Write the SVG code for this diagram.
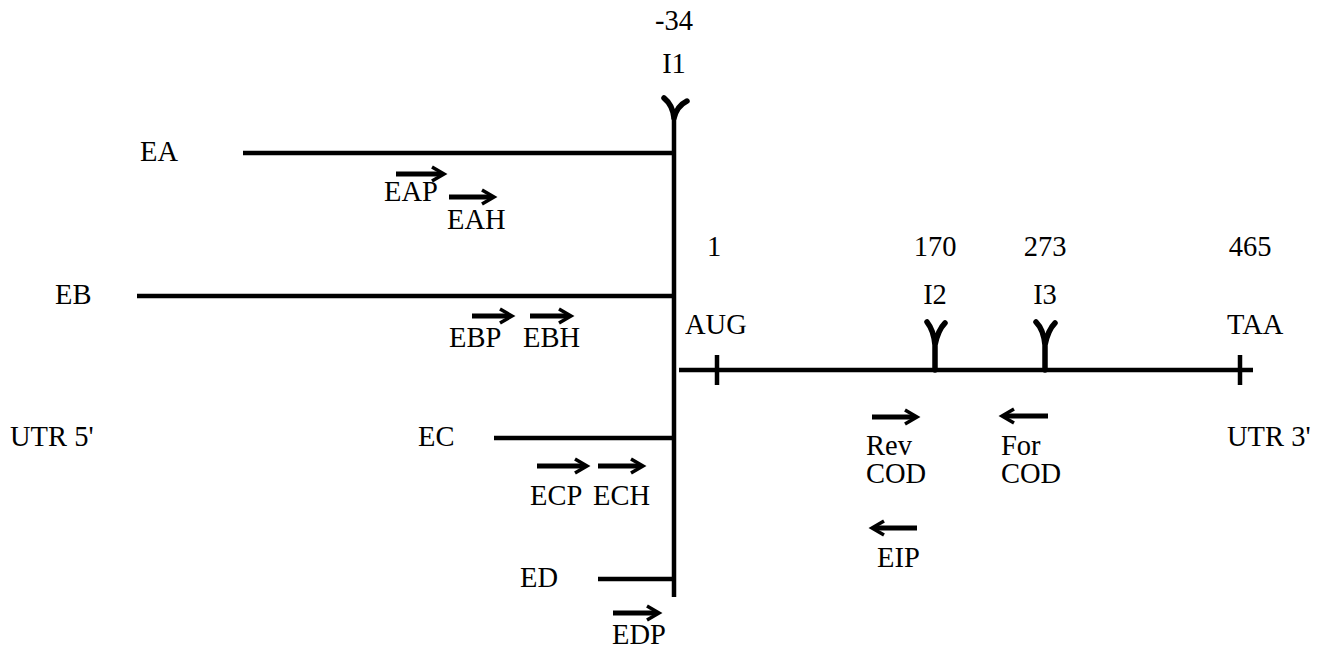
<svg xmlns="http://www.w3.org/2000/svg" width="1327" height="655" viewBox="0 0 1327 655">
<style>
text{font-family:"Liberation Serif","Times New Roman",serif;font-size:28.5px;fill:#000}
.ln{stroke:#000;stroke-width:4.5;fill:none}
.y{stroke:#000;stroke-width:5.5;fill:none;stroke-linecap:round}
.sh{stroke:#000;stroke-width:5;fill:none}
.hd{stroke:#000;stroke-width:3.5;fill:none;stroke-linejoin:miter}
.m{text-anchor:middle}
</style>
<rect width="1327" height="655" fill="#fff"/>
<g id="connectors">
<line class="ln" x1="674" y1="110" x2="674" y2="597"/>
<line class="ln" x1="679" y1="370" x2="1253" y2="370"/>
</g>
<g id="I1"><path class="y" d="M674 118 C673 108 669 102 664 98 M674 118 C676 110 681 104 687 101"/><text class="m" x="674" y="30">-34</text><text class="m" x="674" y="73">I1</text></g>
<g id="EA"><line class="ln" x1="243" y1="153" x2="674" y2="153"/><text x="140" y="161">EA</text></g>
<g id="EB"><line class="ln" x1="137" y1="296" x2="674" y2="296"/><text x="55" y="304">EB</text></g>
<g id="EC"><line class="ln" x1="494" y1="438" x2="674" y2="438"/><text x="418" y="446">EC</text></g>
<g id="ED"><line class="ln" x1="598" y1="579" x2="674" y2="579"/><text x="520" y="587">ED</text></g>
<g id="AUG"><line class="ln" x1="717" y1="355" x2="717" y2="385"/><text class="m" x="714" y="256">1</text><text x="685" y="334">AUG</text></g>
<g id="TAA"><line class="ln" x1="1240" y1="355" x2="1240" y2="385"/><text class="m" x="1250" y="256">465</text><text x="1227" y="334">TAA</text></g>
<g id="I2"><path class="y" d="M935 370 L935 345 C934 334 931 327 927 322 M935 345 C937 335 940 328 945 323"/><text class="m" x="935" y="256">170</text><text class="m" x="935" y="304">I2</text></g>
<g id="I3"><path class="y" d="M1045 370 L1045 345 C1044 334 1041 327 1036 322 M1045 345 C1047 335 1050 328 1055 323"/><text class="m" x="1045" y="256">273</text><text class="m" x="1045" y="304">I3</text></g>
<g id="UTR5"><text x="10" y="446">UTR 5'</text></g>
<g id="UTR3"><text x="1227" y="446">UTR 3'</text></g>
<g id="EAP"><line class="sh" x1="396" y1="174" x2="442" y2="174"/><polyline class="hd" points="432,167 444,174 432,181"/><text x="384" y="201">EAP</text></g>
<g id="EAH"><line class="sh" x1="449" y1="197" x2="492" y2="197"/><polyline class="hd" points="482,190 494,197 482,204"/><text x="447" y="229">EAH</text></g>
<g id="EBP"><line class="sh" x1="472" y1="316" x2="510" y2="316"/><polyline class="hd" points="500,309 512,316 500,323"/><text x="449" y="347">EBP</text></g>
<g id="EBH"><line class="sh" x1="530" y1="316" x2="569" y2="316"/><polyline class="hd" points="559,309 571,316 559,323"/><text x="523" y="347">EBH</text></g>
<g id="ECP"><line class="sh" x1="537" y1="466" x2="585" y2="466"/><polyline class="hd" points="575,459 587,466 575,473"/><text x="530" y="505">ECP</text></g>
<g id="ECH"><line class="sh" x1="598" y1="466" x2="641" y2="466"/><polyline class="hd" points="631,459 643,466 631,473"/><text x="593" y="505">ECH</text></g>
<g id="EDP"><line class="sh" x1="613" y1="613" x2="657" y2="613"/><polyline class="hd" points="647,606 659,613 647,620"/><text x="612" y="644">EDP</text></g>
<g id="RevCOD"><line class="sh" x1="872" y1="417" x2="915" y2="417"/><polyline class="hd" points="905,410 917,417 905,424"/><text x="866" y="455">Rev</text><text x="866" y="483">COD</text></g>
<g id="ForCOD"><line class="sh" x1="1004" y1="416" x2="1048" y2="416"/><polyline class="hd" points="1014,409 1002,416 1014,423"/><text x="1001" y="455">For</text><text x="1001" y="483">COD</text></g>
<g id="EIP"><line class="sh" x1="874" y1="528" x2="917" y2="528"/><polyline class="hd" points="884,521 872,528 884,535"/><text x="877" y="567">EIP</text></g>
</svg>
